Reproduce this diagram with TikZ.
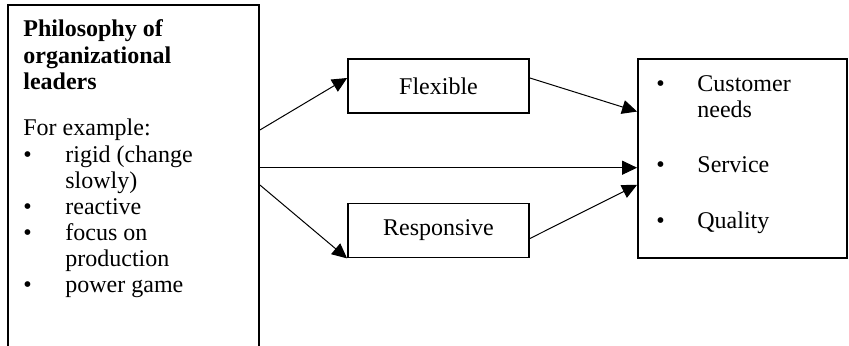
\documentclass[tikz,border=0pt]{standalone}
\usepackage{fontspec}
\setmainfont{Liberation Serif}
\usetikzlibrary{arrows.meta}

\tikzset{
  box/.style={draw, line width=0.9pt, inner sep=0pt, font=\fontsize{12}{14}\selectfont},
  txt/.style={anchor=base west, inner sep=0pt, font=\fontsize{12}{14}\selectfont},
  arr/.style={-{Triangle[length=7.5pt,width=7pt]}, line width=0.5pt}
}

\begin{document}
\begin{tikzpicture}[x=0.5pt, y=-0.5pt]
  \clip (0,0) rectangle (849,346);
  \node[box, minimum width=125.5pt, minimum height=180pt] (phil) at (133.5,185) {};
  \node[box, minimum width=90.5pt, minimum height=27pt] (flex) at (438.5,86) {Flexible};
  \node[box, minimum width=90.5pt, minimum height=27pt] (resp) at (438.5,230.5) {Responsive};
  \node[box, minimum width=104.5pt, minimum height=99.5pt] (cust) at (742.5,158.5) {};

  % left box text
  \foreach \y/\t [count=\i] in {37/Philosophy of, 63.5/organizational, 90/leaders}
    \node[txt, font=\fontsize{12}{14}\selectfont\bfseries] (head\i) at (23,\y) {\t};
  \node[txt] (forex) at (23,136) {For example:};
  \foreach \y/\t [count=\i] in {163/rigid (change, 189/slowly), 215/reactive,
      241/focus on, 267/production, 293/power game}
    \node[txt] (item\i) at (65,\y) {\t};
  \foreach \y [count=\i] in {163, 215, 241, 293}
    \node[txt] (dot\i) at (23,\y) {\textbullet};

  % right box text
  \foreach \y/\t [count=\i] in {91.5/Customer, 118/needs, 173/Service, 228.5/Quality}
    \node[txt] (goal\i) at (697,\y) {\t};
  \foreach \y [count=\i] in {91.5, 173, 228.5}
    \node[txt] (mark\i) at (656,\y) {\textbullet};

  \path[arr]
  ([yshift=27.5pt]phil.east) edge (flex.175)
  (phil.east |- cust.185) edge (cust.185)
  (phil.east) edge (resp.south west)
  (flex.5) edge (cust.156)
  (resp.355) edge (cust.194)
  ;
\end{tikzpicture}
\end{document}
